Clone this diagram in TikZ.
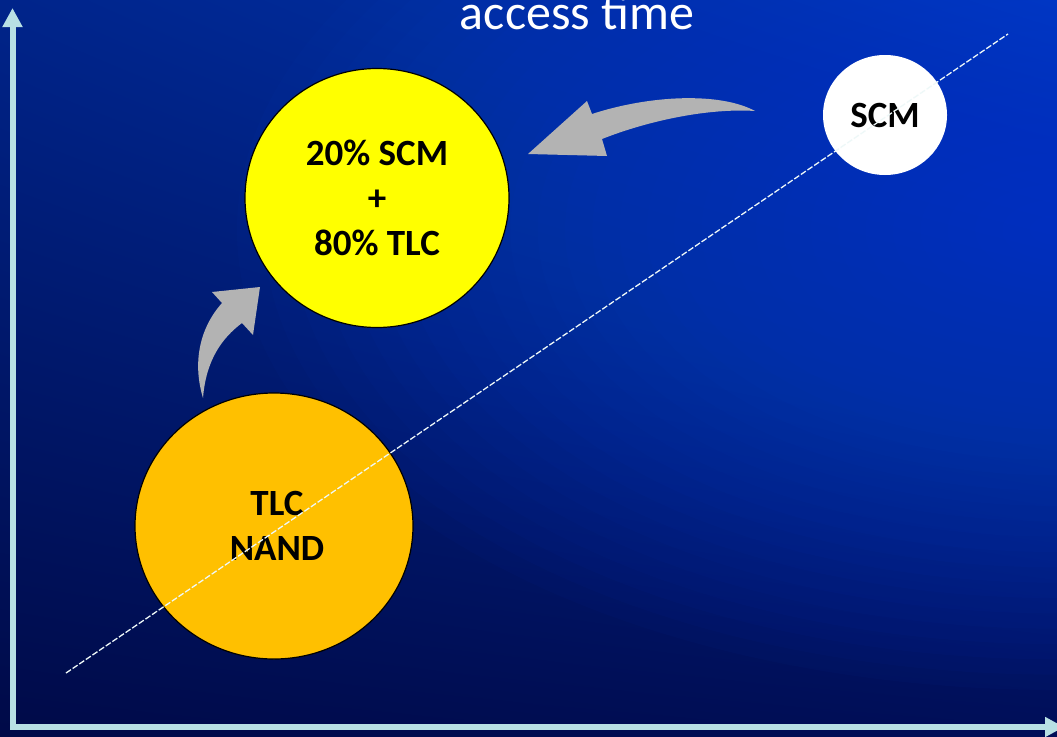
\documentclass[tikz,border=0pt]{standalone}
\usepackage{fontspec}
\setmainfont{Carlito}
\usetikzlibrary{arrows.meta,shapes.geometric,shadings}

\definecolor{bgUL}{HTML}{00248A}
\definecolor{bgUR}{HTML}{0036B4}
\definecolor{bgLL}{HTML}{000A48}
\definecolor{bgLR}{HTML}{000E58}
\definecolor{glowblue}{HTML}{004AE0}
\definecolor{axiscol}{HTML}{B8E0E4}
\definecolor{arrowgray}{HTML}{B3B3B3}
\definecolor{mixyellow}{HTML}{FFFF00}
\definecolor{tlcorange}{HTML}{FFC000}
\definecolor{diagcol}{HTML}{EEF8F8}

\tikzset{
  axis/.style={line width=6pt, draw=axiscol, line cap=rect,
               -{Triangle[length=19pt,width=19pt]}},
  blob/.style={ellipse, inner sep=0pt, align=center, text=black,
               font=\bfseries\fontsize{37}{45}\selectfont},
  outlined/.style={draw=black, line width=1.2pt},
  bent/.style={fill=arrowgray},
  diag/.style={draw=diagcol, line width=1.3pt, dash pattern=on 6pt off 2pt},
  heading/.style={text=white, font=\fontsize{50}{60}\selectfont, anchor=base, inner sep=0pt}
}

\begin{document}
\begin{tikzpicture}[x=1pt,y=-1pt]
\useasboundingbox (0,0) rectangle (1057,736);
\clip (0,0) rectangle (1057,736);

% backdrop: corner blend plus a soft bright patch on the right
\shade[upper left=bgUL, upper right=bgUR, lower left=bgLL, lower right=bgLR]
  (0,0) rectangle (1057,736);
\foreach \k in {0,...,29}{
  \fill[glowblue, fill opacity=0.035]
    (1057,230) ellipse [x radius={820*(1-\k/30)}, y radius={460*(1-\k/30)}];
}

% axes
\coordinate (org) at (12.5,727);
\coordinate (ytip) at (12.5,8);
\coordinate (xtip) at (1064,727);
\draw[axis] (org) -- (ytip);
\draw[axis] (org) -- (xtip);

% curved block arrows
\fill[bent] (203,398) .. controls (193,365) and (198,330) .. (222,303)
  -- (212,292) -- (260,287) -- (253,335) -- (242,323)
  .. controls (222,338) and (206,360) .. (203,398) -- cycle;
\fill[bent] (755,111) .. controls (720,92) and (650,95) .. (592,114)
  -- (587,101) -- (528,154) -- (607,156) -- (602,139)
  .. controls (650,120) and (710,108) .. (755,111) -- cycle;

% memory options
\node[blob, outlined, fill=tlcorange, minimum width=278pt, minimum height=266pt]
  (tlc) at (274,526) {\hspace*{6pt}TLC\\\hspace*{6pt}NAND};
\node[blob, outlined, fill=mixyellow, minimum width=264pt, minimum height=259pt]
  (mix) at (377,198) {20\% SCM\\+\\80\% TLC};
\node[blob, fill=white, minimum width=124pt, minimum height=120pt]
  (scm) at (885,115) {SCM};

% trend line
\coordinate (dlo) at (66,673);
\coordinate (dhi) at (1008,34);
\draw[diag] (dlo) -- (dhi);

% heading
\node[heading] (ttl) at (577,29) {access time};
\end{tikzpicture}
\end{document}
